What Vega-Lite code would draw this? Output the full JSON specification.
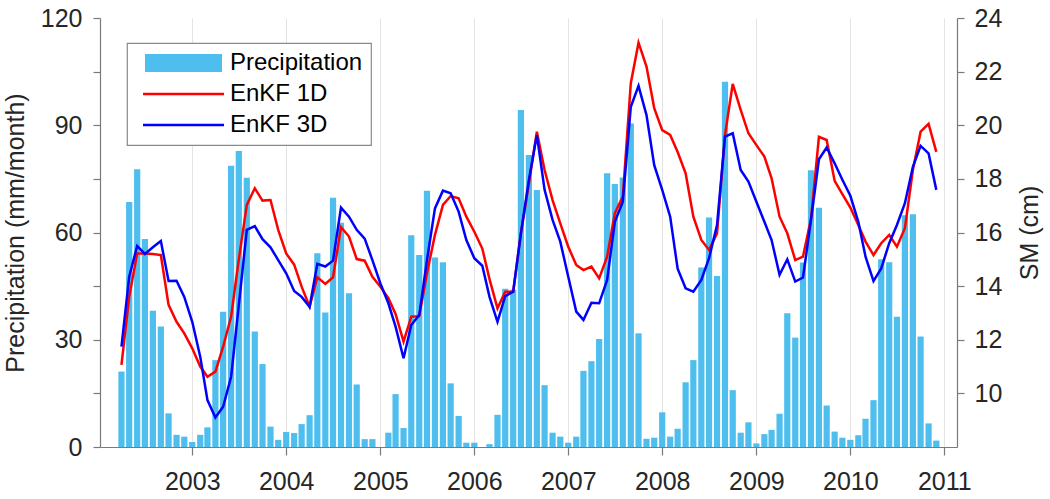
{
  "$schema": "https://vega.github.io/schema/vega-lite/v6.json",
  "width": 857,
  "height": 429,
  "autosize": "none",
  "padding": {"left": 100, "top": 18, "right": 93, "bottom": 52},
  "config": {
    "font": "Liberation Sans",
    "view": {"stroke": null},
    "axis": {
      "labelFontSize": 25,
      "titleFontSize": 25,
      "labelColor": "#262626",
      "titleColor": "#262626",
      "titleFontWeight": "normal",
      "domainColor": "#7a7a7a",
      "tickColor": "#7a7a7a",
      "tickSize": 7,
      "domainWidth": 1.2,
      "tickWidth": 1.2
    }
  },
  "data": {
    "values": [
      {"d":"2002-04-01","p":21.1,"r":11.06,"b":11.74},
      {"d":"2002-05-01","p":68.5,"r":13.6,"b":14.35},
      {"d":"2002-06-01","p":77.7,"r":15.22,"b":15.5},
      {"d":"2002-07-01","p":58.2,"r":15.22,"b":15.2},
      {"d":"2002-08-01","p":38.1,"r":15.2,"b":15.45},
      {"d":"2002-09-01","p":33.7,"r":15.16,"b":15.68},
      {"d":"2002-10-01","p":9.4,"r":13.3,"b":14.19},
      {"d":"2002-11-01","p":3.4,"r":12.67,"b":14.2},
      {"d":"2002-12-01","p":2.9,"r":12.24,"b":13.6},
      {"d":"2003-01-01","p":1.4,"r":11.68,"b":12.67},
      {"d":"2003-02-01","p":3.4,"r":11.0,"b":11.37},
      {"d":"2003-03-01","p":5.5,"r":10.62,"b":9.75},
      {"d":"2003-04-01","p":24.3,"r":10.81,"b":9.1},
      {"d":"2003-05-01","p":37.8,"r":11.74,"b":9.5},
      {"d":"2003-06-01","p":78.7,"r":12.86,"b":10.62},
      {"d":"2003-07-01","p":82.8,"r":15.0,"b":13.3},
      {"d":"2003-08-01","p":75.3,"r":17.03,"b":16.1},
      {"d":"2003-09-01","p":32.3,"r":17.65,"b":16.24},
      {"d":"2003-10-01","p":23.2,"r":17.19,"b":15.75},
      {"d":"2003-11-01","p":5.7,"r":17.21,"b":15.45},
      {"d":"2003-12-01","p":2.0,"r":16.1,"b":14.97},
      {"d":"2004-01-01","p":4.2,"r":15.22,"b":14.48},
      {"d":"2004-02-01","p":3.9,"r":14.8,"b":13.82},
      {"d":"2004-03-01","p":6.4,"r":13.98,"b":13.6},
      {"d":"2004-04-01","p":8.9,"r":13.23,"b":13.23},
      {"d":"2004-05-01","p":54.2,"r":14.33,"b":14.83},
      {"d":"2004-06-01","p":37.6,"r":14.08,"b":14.73},
      {"d":"2004-07-01","p":69.7,"r":14.33,"b":14.95},
      {"d":"2004-08-01","p":62.7,"r":16.2,"b":16.93},
      {"d":"2004-09-01","p":43.0,"r":15.85,"b":16.59},
      {"d":"2004-10-01","p":17.5,"r":15.01,"b":16.1},
      {"d":"2004-11-01","p":2.2,"r":14.95,"b":15.77},
      {"d":"2004-12-01","p":2.2,"r":14.35,"b":14.97},
      {"d":"2005-01-01","p":0,"r":13.98,"b":14.1},
      {"d":"2005-02-01","p":4.0,"r":13.55,"b":13.36},
      {"d":"2005-03-01","p":14.8,"r":12.96,"b":12.49},
      {"d":"2005-04-01","p":5.3,"r":11.93,"b":11.31},
      {"d":"2005-05-01","p":59.2,"r":12.86,"b":12.55},
      {"d":"2005-06-01","p":53.7,"r":12.88,"b":12.92},
      {"d":"2005-07-01","p":71.7,"r":14.48,"b":14.97},
      {"d":"2005-08-01","p":53.0,"r":15.91,"b":16.9},
      {"d":"2005-09-01","p":51.7,"r":17.03,"b":17.56},
      {"d":"2005-10-01","p":17.8,"r":17.36,"b":17.46},
      {"d":"2005-11-01","p":8.7,"r":17.28,"b":16.78},
      {"d":"2005-12-01","p":1.2,"r":16.59,"b":15.72},
      {"d":"2006-01-01","p":1.2,"r":16.03,"b":15.04},
      {"d":"2006-02-01","p":0,"r":15.4,"b":14.76},
      {"d":"2006-03-01","p":0.8,"r":14.26,"b":13.6},
      {"d":"2006-04-01","p":9.0,"r":13.17,"b":12.67},
      {"d":"2006-05-01","p":44.3,"r":13.79,"b":13.63},
      {"d":"2006-06-01","p":44.0,"r":13.79,"b":13.79},
      {"d":"2006-07-01","p":94.3,"r":15.97,"b":15.97},
      {"d":"2006-08-01","p":81.7,"r":17.83,"b":17.96},
      {"d":"2006-09-01","p":71.9,"r":19.76,"b":19.64},
      {"d":"2006-10-01","p":17.3,"r":18.33,"b":17.59},
      {"d":"2006-11-01","p":4.0,"r":17.21,"b":16.47},
      {"d":"2006-12-01","p":2.9,"r":16.34,"b":15.66},
      {"d":"2007-01-01","p":1.2,"r":15.47,"b":14.35},
      {"d":"2007-02-01","p":2.9,"r":14.79,"b":13.05},
      {"d":"2007-03-01","p":21.3,"r":14.6,"b":12.74},
      {"d":"2007-04-01","p":24.0,"r":14.73,"b":13.38},
      {"d":"2007-05-01","p":30.2,"r":14.29,"b":13.36},
      {"d":"2007-06-01","p":76.6,"r":15.1,"b":14.23},
      {"d":"2007-07-01","p":73.6,"r":16.72,"b":16.4},
      {"d":"2007-08-01","p":75.4,"r":17.34,"b":17.15},
      {"d":"2007-09-01","p":90.5,"r":21.57,"b":20.69},
      {"d":"2007-10-01","p":31.8,"r":23.08,"b":21.47},
      {"d":"2007-11-01","p":2.3,"r":22.19,"b":20.38},
      {"d":"2007-12-01","p":2.6,"r":20.64,"b":18.51},
      {"d":"2008-01-01","p":9.7,"r":19.82,"b":17.59},
      {"d":"2008-02-01","p":2.9,"r":19.64,"b":16.59},
      {"d":"2008-03-01","p":5.1,"r":19.0,"b":14.65},
      {"d":"2008-04-01","p":18.1,"r":18.21,"b":13.92},
      {"d":"2008-05-01","p":24.3,"r":16.59,"b":13.79},
      {"d":"2008-06-01","p":50.2,"r":15.72,"b":14.23},
      {"d":"2008-07-01","p":64.2,"r":15.35,"b":15.04},
      {"d":"2008-08-01","p":47.8,"r":15.97,"b":16.28},
      {"d":"2008-09-01","p":102.2,"r":19.64,"b":19.58},
      {"d":"2008-10-01","p":15.9,"r":21.54,"b":19.7},
      {"d":"2008-11-01","p":4.0,"r":20.57,"b":18.33},
      {"d":"2008-12-01","p":6.9,"r":19.7,"b":17.9},
      {"d":"2009-01-01","p":1.0,"r":19.26,"b":17.15},
      {"d":"2009-02-01","p":3.6,"r":18.83,"b":16.4},
      {"d":"2009-03-01","p":4.8,"r":18.02,"b":15.72},
      {"d":"2009-04-01","p":9.3,"r":16.59,"b":14.42},
      {"d":"2009-05-01","p":37.4,"r":15.97,"b":15.0},
      {"d":"2009-06-01","p":30.6,"r":14.97,"b":14.17},
      {"d":"2009-07-01","p":51.6,"r":15.1,"b":14.32},
      {"d":"2009-08-01","p":77.4,"r":16.5,"b":16.45},
      {"d":"2009-09-01","p":66.9,"r":19.57,"b":18.73},
      {"d":"2009-10-01","p":11.6,"r":19.45,"b":19.17},
      {"d":"2009-11-01","p":4.3,"r":17.93,"b":18.58},
      {"d":"2009-12-01","p":2.6,"r":17.43,"b":17.97},
      {"d":"2010-01-01","p":2.0,"r":16.93,"b":17.37},
      {"d":"2010-02-01","p":3.3,"r":16.28,"b":16.4},
      {"d":"2010-03-01","p":7.9,"r":15.66,"b":15.1},
      {"d":"2010-04-01","p":13.1,"r":15.16,"b":14.19},
      {"d":"2010-05-01","p":52.5,"r":15.6,"b":14.66},
      {"d":"2010-06-01","p":51.7,"r":15.91,"b":15.6},
      {"d":"2010-07-01","p":36.4,"r":15.47,"b":16.28},
      {"d":"2010-08-01","p":64.8,"r":16.16,"b":17.09},
      {"d":"2010-09-01","p":65.1,"r":18.33,"b":18.45},
      {"d":"2010-10-01","p":30.9,"r":19.76,"b":19.23},
      {"d":"2010-11-01","p":6.6,"r":20.05,"b":18.95},
      {"d":"2010-12-01","p":1.8,"r":19.01,"b":17.59}
    ]
  },
  "encoding": {
    "x": {
      "field": "d",
      "type": "temporal",
      "scale": {"type": "utc", "domain": ["2002-01-27", "2011-01-31"]},
      "axis": {
        "title": null,
        "format": "%Y",
        "tickCount": {"interval": "year", "step": 1},
        "grid": true,
        "gridColor": "#e3e3e3",
        "gridWidth": 1,
        "tickSize": 8,
        "labelPadding": 14,
        "labelFlush": false
      }
    }
  },
  "layer": [
    {
      "mark": {"type": "bar", "width": 6.2},
      "encoding": {
        "y": {
          "field": "p",
          "type": "quantitative",
          "scale": {"domain": [0, 120], "nice": false},
          "axis": {
            "orient": "left",
            "title": "Precipitation (mm/month)",
            "values": [0, 15, 30, 45, 60, 75, 90, 105, 120],
            "labelExpr": "datum.value % 30 === 0 ? datum.label : ''",
            "grid": false,
            "labelPadding": 11,
            "titlePadding": 12
          }
        },
        "color": {
          "datum": "Precipitation",
          "type": "nominal",
          "scale": {
            "domain": ["Precipitation", "EnKF 1D", "EnKF 3D"],
            "range": ["#4DBEEE", "#FF0000", "#0000FF"]
          },
          "legend": {
            "title": null,
            "orient": "none",
            "legendX": 27,
            "legendY": 25,
            "symbolSize": 900,
            "rowPadding": 7,
            "labelFontSize": 24,
            "labelColor": "#000000",
            "labelOffset": 34.5,
            "labelLimit": 400,
            "symbolOffset": 36.5,
            "padding": 8,
            "strokeColor": "#8a8a8a",
            "fillColor": "#ffffff",
            "encode": {
              "legend": {
                "update": {
                  "stroke": {"value": "#8a8a8a"},
                  "strokeWidth": {"value": 1.2},
                  "fill": {"value": "#ffffff"}
                }
              },
              "symbols": {
                "update": {
                  "shape": {"signal": "datum.value === 'Precipitation' ? 'M-2.567,-0.6H2.567V0.6H-2.567Z' : 'M-2.7,0H2.7'"},
                  "fill": {"signal": "datum.value === 'Precipitation' ? '#4DBEEE' : 'transparent'"},
                  "stroke": {"signal": "datum.value === 'EnKF 1D' ? '#FF0000' : (datum.value === 'EnKF 3D' ? '#0000FF' : 'transparent')"},
                  "strokeWidth": {"signal": "datum.value === 'Precipitation' ? 0 : 2.5"},
                  "opacity": {"value": 1}
                }
              }
            }
          }
        }
      }
    },
    {
      "layer": [
        {
          "mark": {"type": "line", "strokeWidth": 2.5},
          "encoding": {
            "y": {
              "field": "r",
              "type": "quantitative",
              "scale": {"domain": [8, 24], "nice": false},
              "axis": {
                "orient": "right",
                "title": "SM (cm)",
                "values": [10, 12, 14, 16, 18, 20, 22, 24],
                "grid": false,
                "labelPadding": 10,
                "titlePadding": 16,
                "titleAngle": 270,
                "titleBaseline": "top"
              }
            },
            "color": {"datum": "EnKF 1D", "type": "nominal"}
          }
        },
        {
          "mark": {"type": "line", "strokeWidth": 2.5},
          "encoding": {
            "y": {"field": "b", "type": "quantitative"},
            "color": {"datum": "EnKF 3D", "type": "nominal"}
          }
        }
      ]
    }
  ],
  "resolve": {"scale": {"y": "independent"}}
}
